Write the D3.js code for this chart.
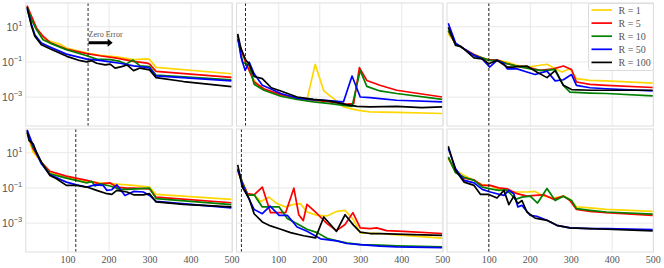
<!DOCTYPE html>
<html>
<head>
<meta charset="utf-8">
<script src="https://cdn.jsdelivr.net/npm/d3@7"></script>
<style>
  body { margin: 0; background: #fff; }
</style>
</head>
<body>
<script>
// series names / colours
const labels = ["R = 1", "R = 5", "R = 10", "R = 50", "R = 100"];
const colors = ["#FFD700", "#FF0000", "#008000", "#0000FF", "#000000"];
const xTicks = [100, 200, 300, 400, 500];
const yTicks = [1e1, 1e-1, 1e-3];
const yExp = ["1", "\u22121", "\u22123"];

// iteration where the dashed marker sits, one per panel
const markers = [150, 20, 100, 120, 10, 100];

// top-left
const tl_r1 = [[1,126],[12,30],[24,6.5],[40,2.1],[57,1.4],[81,0.98],[97,0.58],[147,0.30],[179,0.22],[220,0.18],[261,0.126],[296,0.14],[300,0.126],[316,0.046],[500,0.02]];
const tl_r5 = [[1,148],[12,37],[24,8],[40,2.7],[57,1.2],[97,0.5],[147,0.28],[179,0.21],[220,0.155],[261,0.1],[294,0.08],[300,0.071],[316,0.027],[500,0.0123]];
const tl_r10 = [[1,126],[12,24],[24,6.5],[40,1.7],[57,1.1],[97,0.47],[147,0.21],[171,0.135],[204,0.126],[228,0.1],[243,0.07],[259,0.12],[277,0.056],[300,0.051],[316,0.0166],[500,0.0089]];
const tl_r50 = [[1,100],[12,12.6],[20,3.3],[36,1.1],[57,0.66],[97,0.26],[147,0.135],[179,0.115],[204,0.095],[228,0.079],[261,0.056],[294,0.046],[300,0.042],[316,0.015],[500,0.0079]];
const tl_r100 = [[1,126],[12,10],[20,2.7],[36,0.89],[57,0.52],[98,0.195],[131,0.11],[147,0.095],[159,0.11],[171,0.079],[192,0.063],[204,0.071],[216,0.042],[232,0.051],[245,0.063],[261,0.030],[277,0.042],[300,0.033],[316,0.012],[383,0.0072],[500,0.0037]];

// top-middle
const tm_r1 = [[1,1.55],[21,0.074],[41,0.0083],[61,0.0028],[106,0.0012],[146,0.00083],[170,0.00067],[190,0.068],[211,0.0021],[235,0.00077],[259,0.00026],[292,0.00017],[324,0.000135],[389,0.000126],[500,0.00011]];
const tm_r5 = [[1,1.9],[21,0.081],[41,0.0068],[65,0.0028],[106,0.0013],[146,0.00083],[186,0.00062],[227,0.0005],[267,0.00037],[284,0.0004],[298,0.044],[316,0.0083],[348,0.0044],[389,0.0023],[500,0.00095]];
const tm_r10 = [[1,1.9],[13,0.091],[21,0.074],[29,0.06],[41,0.005],[65,0.0023],[106,0.00105],[146,0.0007],[186,0.0005],[227,0.0004],[259,0.00032],[280,0.00028],[300,0.031],[316,0.0038],[348,0.0021],[389,0.0015],[500,0.0007]];
const tm_r50 = [[1,3.0],[9,0.18],[19,0.031],[29,0.091],[41,0.02],[61,0.0044],[81,0.0028],[106,0.0015],[146,0.00083],[186,0.00067],[215,0.00062],[259,0.0005],[280,0.0148],[300,0.00095],[324,0.00087],[348,0.00077],[389,0.00062],[500,0.0005]];
const tm_r100 = [[1,3.7],[9,0.52],[21,0.115],[29,0.074],[41,0.014],[61,0.0105],[83,0.0032],[106,0.0021],[146,0.00095],[186,0.0007],[227,0.00055],[267,0.00035],[292,0.00028],[324,0.00026],[389,0.00028],[450,0.00024],[500,0.00026]];

// top-right
const tr_r1 = [[1,3.7],[19,1.0],[32,0.65],[64,0.25],[84,0.16],[100,0.115],[120,0.115],[145,0.091],[169,0.059],[193,0.048],[213,0.055],[242,0.069],[262,0.038],[278,0.025],[298,0.038],[314,0.0105],[347,0.0083],[387,0.0078],[500,0.0059]];
const tr_r5 = [[1,5.6],[19,1.0],[32,0.65],[64,0.25],[84,0.155],[100,0.123],[120,0.123],[145,0.074],[177,0.048],[201,0.044],[225,0.031],[258,0.038],[282,0.055],[302,0.035],[314,0.0068],[347,0.005],[387,0.0044],[500,0.0033]];
const tr_r10 = [[1,5.6],[19,1.0],[64,0.22],[84,0.16],[100,0.115],[120,0.115],[145,0.074],[177,0.048],[201,0.038],[225,0.031],[242,0.031],[262,0.035],[282,0.0044],[298,0.0018],[347,0.0016],[387,0.0015],[500,0.0011]];
const tr_r50 = [[1,14.8],[19,1.1],[64,0.22],[84,0.14],[102,0.048],[120,0.115],[137,0.074],[145,0.038],[169,0.038],[193,0.025],[213,0.018],[242,0.028],[262,0.0078],[282,0.0091],[302,0.018],[314,0.0044],[347,0.0032],[387,0.0028],[500,0.0021]];
const tr_r100 = [[1,8.7],[19,0.81],[32,0.71],[64,0.16],[84,0.14],[100,0.074],[120,0.115],[145,0.048],[161,0.048],[173,0.052],[193,0.055],[217,0.025],[242,0.012],[262,0.030],[282,0.0044],[302,0.0025],[347,0.0023],[387,0.0023],[500,0.0023]];

// bottom-left
const bl_r1 = [[1,110],[16,10],[36,2.7],[57,0.74],[97,0.38],[147,0.22],[179,0.18],[212,0.16],[261,0.13],[300,0.105],[316,0.04],[500,0.021]];
const bl_r5 = [[1,135],[16,15.5],[36,2.7],[57,0.83],[97,0.44],[147,0.25],[179,0.16],[204,0.18],[220,0.105],[245,0.091],[261,0.091],[300,0.083],[316,0.028],[500,0.0135]];
const bl_r10 = [[1,135],[16,19],[36,2.7],[57,0.59],[97,0.34],[147,0.18],[159,0.22],[167,0.12],[179,0.16],[204,0.12],[228,0.078],[245,0.078],[300,0.091],[316,0.023],[500,0.0105]];
const bl_r50 = [[1,190],[16,24],[36,2.2],[57,0.52],[97,0.2],[122,0.14],[147,0.105],[167,0.14],[187,0.13],[196,0.068],[208,0.074],[220,0.14],[240,0.035],[261,0.059],[285,0.055],[300,0.035],[316,0.016],[500,0.0068]];
const bl_r100 = [[1,170],[6,46],[16,30],[24,10],[36,2.7],[57,0.48],[73,0.31],[97,0.13],[122,0.13],[147,0.105],[171,0.068],[196,0.044],[208,0.04],[220,0.068],[245,0.055],[261,0.038],[285,0.038],[300,0.044],[316,0.015],[383,0.011],[500,0.0078]];

// bottom-middle
const bm_r1 = [[1,0.74],[12,0.2],[25,0.044],[41,0.038],[57,0.016],[77,0.028],[97,0.012],[118,0.0078],[138,0.011],[154,0.012],[170,0.004],[195,0.0026],[219,0.0024],[243,0.0044],[263,0.005],[284,0.0014],[300,0.00026],[348,0.00024],[389,0.0002],[500,0.00013]];
const bm_r5 = [[1,0.91],[12,0.2],[25,0.044],[41,0.038],[61,0.105],[81,0.0037],[97,0.0037],[118,0.0037],[138,0.091],[150,0.0028],[161,0.0013],[170,0.011],[195,0.0032],[219,0.00087],[242,0.00035],[263,0.00078],[282,0.0037],[300,0.0005],[324,0.00046],[340,0.0005],[364,0.00035],[405,0.00032],[500,0.00024]];
const bm_r10 = [[1,1.15],[12,0.2],[25,0.035],[41,0.038],[61,0.0078],[81,0.0078],[102,0.0078],[122,0.0017],[146,0.00087],[170,0.00042],[195,0.00027],[219,0.00013],[243,0.000091],[267,0.00007],[300,0.000056],[348,0.000052],[389,0.000048],[500,0.000042]];
const bm_r50 = [[1,1.15],[12,0.16],[25,0.032],[41,0.0056],[61,0.0032],[80,0.0087],[102,0.0026],[122,0.0026],[146,0.00056],[170,0.00032],[203,0.00012],[243,0.000091],[267,0.000065],[300,0.000056],[348,0.000046],[389,0.000042],[500,0.000038]];
const bm_r100 = [[1,1.9],[12,0.105],[29,0.023],[41,0.0032],[61,0.0011],[81,0.00065],[106,0.00042],[130,0.00027],[162,0.00018],[191,0.000135],[211,0.0021],[242,0.00032],[263,0.0028],[284,0.0007],[300,0.00029],[324,0.00024],[348,0.00024],[429,0.00021],[500,0.00019]];

// bottom-right
const br_r1 = [[1,4.2],[19,0.91],[40,0.48],[64,0.25],[84,0.14],[104,0.12],[124,0.078],[145,0.055],[169,0.055],[193,0.055],[213,0.059],[234,0.032],[258,0.025],[282,0.032],[298,0.021],[314,0.0078],[347,0.0068],[387,0.0056],[500,0.0044]];
const br_r5 = [[1,5.2],[19,0.74],[40,0.34],[64,0.27],[84,0.13],[104,0.13],[124,0.095],[145,0.083],[169,0.044],[193,0.032],[213,0.035],[234,0.038],[258,0.021],[282,0.032],[298,0.018],[314,0.0056],[347,0.0044],[387,0.0037],[500,0.0026]];
const br_r10 = [[1,5.2],[19,0.68],[40,0.38],[64,0.25],[84,0.105],[104,0.083],[124,0.068],[141,0.074],[153,0.044],[165,0.021],[181,0.028],[201,0.032],[219,0.013],[242,0.087],[262,0.018],[282,0.032],[302,0.018],[314,0.0062],[347,0.005],[387,0.004],[500,0.003]];
const br_r50 = [[1,17],[19,1.15],[40,0.25],[64,0.18],[84,0.078],[104,0.055],[120,0.044],[137,0.035],[149,0.068],[161,0.044],[171,0.0078],[181,0.0095],[201,0.0026],[217,0.0023],[242,0.00135],[266,0.0007],[298,0.0005],[347,0.00046],[387,0.00046],[500,0.0004]];
const br_r100 = [[1,22],[19,0.91],[40,0.2],[64,0.13],[80,0.04],[100,0.04],[120,0.025],[137,0.068],[149,0.0105],[161,0.032],[171,0.012],[181,0.018],[193,0.004],[213,0.0018],[242,0.00135],[266,0.0007],[298,0.0005],[347,0.00046],[387,0.00042],[500,0.00034]];

const panels = [
    [tl_r1, tl_r5, tl_r10, tl_r50, tl_r100],
    [tm_r1, tm_r5, tm_r10, tm_r50, tm_r100],
    [tr_r1, tr_r5, tr_r10, tr_r50, tr_r100],
    [bl_r1, bl_r5, bl_r10, bl_r50, bl_r100],
    [bm_r1, bm_r5, bm_r10, bm_r50, bm_r100],
    [br_r1, br_r5, br_r10, br_r50, br_r100]
];

const width = 664, height = 268;
const colX = [25.8, 236.5, 447];
const rowY = [3, 129];
const pw = 206.5, ph = 123;
const font = "'Liberation Serif', 'DejaVu Serif', serif";
const textColor = "#555";
const gridColor = "#e8e8e8";

const svg = d3.select("body").append("svg")
    .attr("width", width)
    .attr("height", height)
    .style("font-family", font);

panels.forEach((series, i) => {
    const col = i % 3, row = Math.floor(i / 3);
    const x0 = colX[col], y0 = rowY[row];

    const x = d3.scaleLinear().domain([-2, 502]).range([x0, x0 + pw]);
    const y = d3.scaleLog().domain([2.14e-5, 209]).range([y0 + ph, y0]);

    const g = svg.append("g");

    g.append("clipPath").attr("id", "clip" + i)
      .append("rect").attr("x", x0).attr("y", y0).attr("width", pw).attr("height", ph);

    // grid
    const gx = g.append("g")
        .attr("transform", `translate(0,${y0 + ph})`)
        .call(d3.axisBottom(x).tickValues(xTicks).tickSize(-ph)
            .tickFormat(row === 1 ? d3.format("d") : ""));
    gx.select(".domain").remove();
    gx.selectAll("line").attr("stroke", gridColor);
    gx.selectAll("text")
        .attr("y", 3.5)
        .attr("fill", textColor)
        .style("font-family", font)
        .style("font-size", "10px");

    const gy = g.append("g")
        .attr("transform", `translate(${x0},0)`)
        .call(d3.axisLeft(y).tickValues(yTicks).tickSize(-pw).tickFormat(""));
    gy.select(".domain").remove();
    gy.selectAll("line").attr("stroke", gridColor);

    if (col === 0) {
        gy.selectAll(".tick").each(function(d, k) {
            const t = d3.select(this).append("text")
                .attr("x", -3.5)
                .attr("y", 3.8)
                .attr("text-anchor", "end")
                .attr("fill", textColor)
                .style("font-size", "10.5px");
            t.append("tspan").text("10");
            t.append("tspan").attr("dy", -4.5).style("font-size", "7.5px").text(yExp[k]);
        });
    }

    // curves
    const line = d3.line().x(d => x(d[0])).y(d => y(d[1]));
    const lines = g.append("g").attr("clip-path", `url(#clip${i})`);
    series.forEach((s, k) => {
        lines.append("path")
            .datum(s)
            .attr("d", line)
            .attr("fill", "none")
            .attr("stroke", colors[k])
            .attr("stroke-width", 1.7)
            .attr("stroke-linejoin", "round");
    });

    // dashed marker
    g.append("line")
        .attr("x1", x(markers[i])).attr("x2", x(markers[i]))
        .attr("y1", y0).attr("y2", y0 + ph)
        .attr("stroke", "#111")
        .attr("stroke-width", 0.9)
        .attr("stroke-dasharray", "3,2");

    // frame
    g.append("rect")
        .attr("x", x0).attr("y", y0).attr("width", pw).attr("height", ph)
        .attr("fill", "none")
        .attr("stroke", "#dedede")
        .attr("stroke-width", 1);

    if (i === 0) {
        // "Zero Error" annotation with arrow
        const ax = x(150) + 0.5, ay = y(1.15), ex = x(210);
        g.append("text")
            .attr("x", ax).attr("y", y(2.3))
            .attr("fill", textColor)
            .style("font-size", "8px")
            .text("Zero Error");
        g.append("path")
            .attr("d", `M${ax},${ay - 1.4}H${ex - 5}V${ay - 3.9}L${ex},${ay}L${ex - 5},${ay + 3.9}V${ay + 1.4}H${ax}Z`)
            .attr("fill", "#000");
    }

    if (i === 2) {
        const lg = g.append("g").attr("transform", `translate(${x0 + pw - 65},${y0 + 0.5})`);
        lg.append("rect")
            .attr("width", 65).attr("height", 67).attr("rx", 2)
            .attr("fill", "#fff").attr("fill-opacity", 0.85)
            .attr("stroke", "#dcdcdc");
        labels.forEach((lab, k) => {
            const ly = 6.5 + k * 13.1;
            lg.append("line")
                .attr("x1", 3).attr("x2", 23.5)
                .attr("y1", ly).attr("y2", ly)
                .attr("stroke", colors[k]).attr("stroke-width", 1.7);
            lg.append("text")
                .attr("x", 30).attr("y", ly + 3.5)
                .attr("fill", textColor)
                .style("font-size", "10px")
                .text(lab);
        });
    }
});
</script>
</body>
</html>
